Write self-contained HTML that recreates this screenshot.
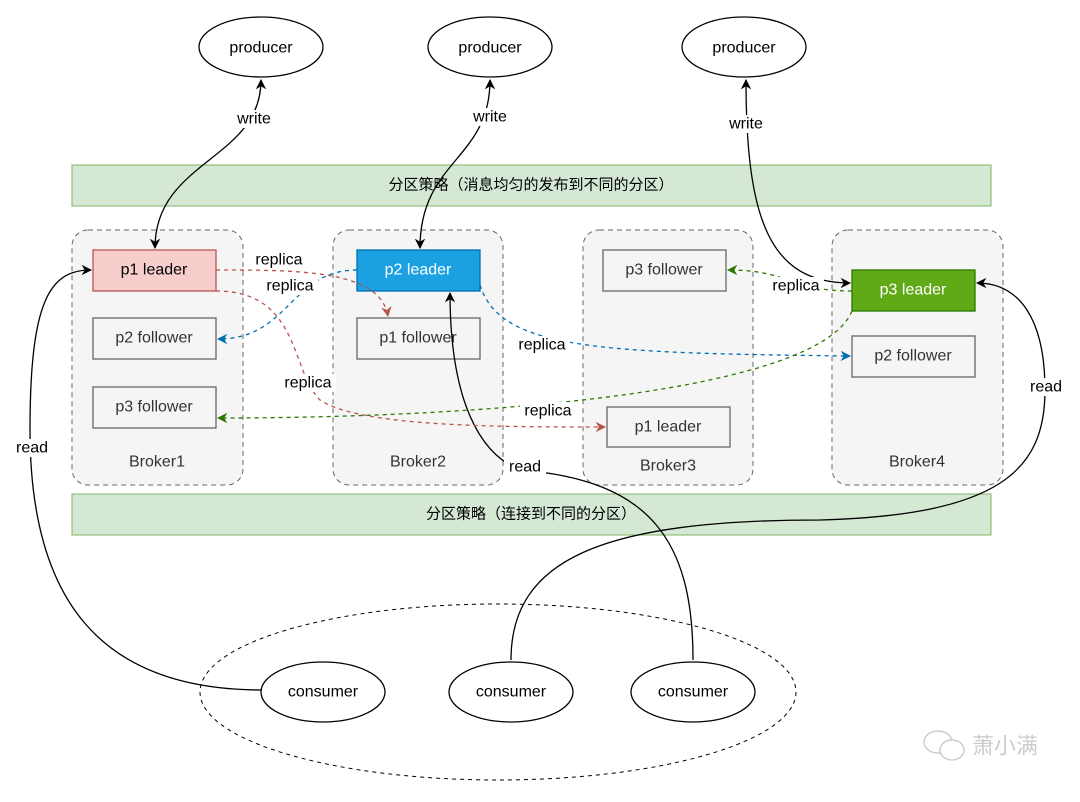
<!DOCTYPE html>
<html><head><meta charset="utf-8"><style>
body{margin:0;background:#fff}
svg text{font-family:"Liberation Sans","Noto Sans CJK SC",sans-serif;font-size:16px;text-anchor:middle;dominant-baseline:central}
</style></head><body>
<svg width="1080" height="797" viewBox="0 0 1080 797" xmlns="http://www.w3.org/2000/svg">
<defs>
<marker id="ak" viewBox="0 0 10 10" refX="9" refY="5" markerWidth="8" markerHeight="8" orient="auto-start-reverse"><path d="M0,0 L10,5 L0,10 L3,5z" fill="#000"/></marker>
<marker id="ar" viewBox="0 0 10 10" refX="9" refY="5" markerWidth="8" markerHeight="8" orient="auto"><path d="M0,0 L10,5 L0,10 L3,5z" fill="#b85450"/></marker>
<marker id="ab" viewBox="0 0 10 10" refX="9" refY="5" markerWidth="8" markerHeight="8" orient="auto"><path d="M0,0 L10,5 L0,10 L3,5z" fill="#006eaf"/></marker>
<marker id="ag" viewBox="0 0 10 10" refX="9" refY="5" markerWidth="8" markerHeight="8" orient="auto"><path d="M0,0 L10,5 L0,10 L3,5z" fill="#2d7600"/></marker>
</defs>
<g fill="#fff" stroke="#000" stroke-width="1.3">
<ellipse cx="261" cy="47" rx="62" ry="30"/><ellipse cx="490" cy="47" rx="62" ry="30"/><ellipse cx="744" cy="47" rx="62" ry="30"/>
</g>
<text x="261" y="48">producer</text><text x="490" y="48">producer</text><text x="744" y="48">producer</text>
<rect x="72" y="165" width="919" height="41" fill="#d5e8d4" stroke="#82b366"/>
<text x="531" y="185" style="font-size:15px">分区策略（消息均匀的发布到不同的分区）</text>
<rect x="72" y="494" width="919" height="41" fill="#d5e8d4" stroke="#82b366"/>
<text x="531" y="514" style="font-size:15px">分区策略（连接到不同的分区）</text>
<g fill="#f5f5f5" stroke="#666" stroke-dasharray="5,4">
<rect x="72" y="230" width="171" height="255" rx="16"/>
<rect x="333" y="230" width="170" height="255" rx="16"/>
<rect x="583" y="230" width="170" height="255" rx="16"/>
<rect x="832" y="230" width="171" height="255" rx="16"/>
</g>
<g fill="#333"><text x="157" y="462">Broker1</text><text x="418" y="462">Broker2</text><text x="668" y="466">Broker3</text><text x="917" y="462">Broker4</text></g>
<g fill="#f5f5f5" stroke="#666" stroke-width="1.3">
<rect x="93" y="318" width="123" height="41"/><rect x="93" y="387" width="123" height="41"/>
<rect x="357" y="318" width="123" height="41"/>
<rect x="603" y="250" width="123" height="41"/><rect x="607" y="407" width="123" height="40"/>
<rect x="852" y="336" width="123" height="41"/>
</g>
<rect x="93" y="250" width="123" height="41" fill="#f8cecc" stroke="#b85450" stroke-width="1.3"/>
<rect x="357" y="250" width="123" height="41" fill="#1ba1e2" stroke="#006eaf" stroke-width="1.3"/>
<rect x="852" y="270" width="123" height="41" fill="#60a917" stroke="#2d7600" stroke-width="1.3"/>
<g fill="#333">
<text x="154" y="338">p2 follower</text><text x="154" y="407">p3 follower</text>
<text x="418" y="338">p1 follower</text>
<text x="664" y="270">p3 follower</text><text x="668" y="427">p1 leader</text>
<text x="913" y="356">p2 follower</text>
</g>
<text x="154" y="270" fill="#000">p1 leader</text>
<text x="418" y="270" fill="#fff">p2 leader</text>
<text x="913" y="290" fill="#fff">p3 leader</text>
<ellipse cx="498" cy="692" rx="298" ry="88" fill="none" stroke="#000" stroke-dasharray="4,4"/>
<g fill="#fff" stroke="#000" stroke-width="1.3">
<ellipse cx="323" cy="692" rx="62" ry="30"/><ellipse cx="511" cy="692" rx="62" ry="30"/><ellipse cx="693" cy="692" rx="62" ry="30"/>
</g>
<text x="323" y="692">consumer</text><text x="511" y="692">consumer</text><text x="693" y="692">consumer</text>
<g fill="none" stroke="#000" stroke-width="1.3">
<path d="M155,248 C155,160 261,160 261,80" marker-start="url(#ak)" marker-end="url(#ak)"/>
<path d="M420,248 C420,160 490,160 490,80" marker-start="url(#ak)" marker-end="url(#ak)"/>
<path d="M746,80 C746,220 770,283 850,283" marker-start="url(#ak)" marker-end="url(#ak)"/>
<path d="M262,690 C100,690 30,600 30,430 C30,300 50,270 91,270" marker-end="url(#ak)"/>
<path d="M693,660 C693,540 650,480 520,470 C470,450 450,380 450,293" marker-end="url(#ak)"/>
<path d="M511,660 C511,560 600,520 820,520 C1000,515 1045,470 1045,390 C1045,320 1020,283 977,283" marker-end="url(#ak)"/>
</g>
<g fill="none" stroke-width="1.3" stroke-dasharray="4,4">
<path d="M216,270 C300,270 380,270 388,316" stroke="#b85450" marker-end="url(#ar)"/>
<path d="M216,291 C300,291 290,370 320,400 C360,427 500,427 605,427" stroke="#b85450" marker-end="url(#ar)"/>
<path d="M357,270 C290,270 290,339 218,339" stroke="#006eaf" marker-end="url(#ab)"/>
<path d="M480,285 C500,350 600,353 850,356" stroke="#006eaf" marker-end="url(#ab)"/>
<path d="M852,291 C790,291 790,270 728,270" stroke="#2d7600" marker-end="url(#ag)"/>
<path d="M852,311 C820,390 500,418 218,418" stroke="#2d7600" marker-end="url(#ag)"/>
</g>
<g fill="#fff">
<rect x="232" y="110" width="44" height="18"/><rect x="468" y="108" width="44" height="18"/><rect x="724" y="115" width="44" height="18"/>
<rect x="12" y="439" width="40" height="18"/><rect x="504" y="458" width="42" height="18"/><rect x="1026" y="378" width="40" height="18"/>
<rect x="252" y="251" width="54" height="18"/><rect x="262" y="277" width="56" height="18"/><rect x="280" y="374" width="56" height="18"/>
<rect x="514" y="336" width="56" height="18"/><rect x="768" y="277" width="56" height="18"/><rect x="520" y="402" width="56" height="18"/>
</g>
<g fill="#000">
<text x="254" y="119">write</text><text x="490" y="117">write</text><text x="746" y="124">write</text>
<text x="32" y="448">read</text><text x="525" y="467">read</text><text x="1046" y="387">read</text>
<text x="279" y="260">replica</text><text x="290" y="286">replica</text><text x="308" y="383">replica</text>
<text x="542" y="345">replica</text><text x="796" y="286">replica</text><text x="548" y="411">replica</text>
</g>
<g fill="none" stroke="#ccc" stroke-width="1.5"><ellipse cx="938" cy="742" rx="14" ry="11"/><ellipse cx="952" cy="750" rx="12" ry="10" fill="#fff"/></g>
<text x="1005" y="746" fill="#ccc" style="font-size:22px">萧小满</text>
</svg>
</body></html>
